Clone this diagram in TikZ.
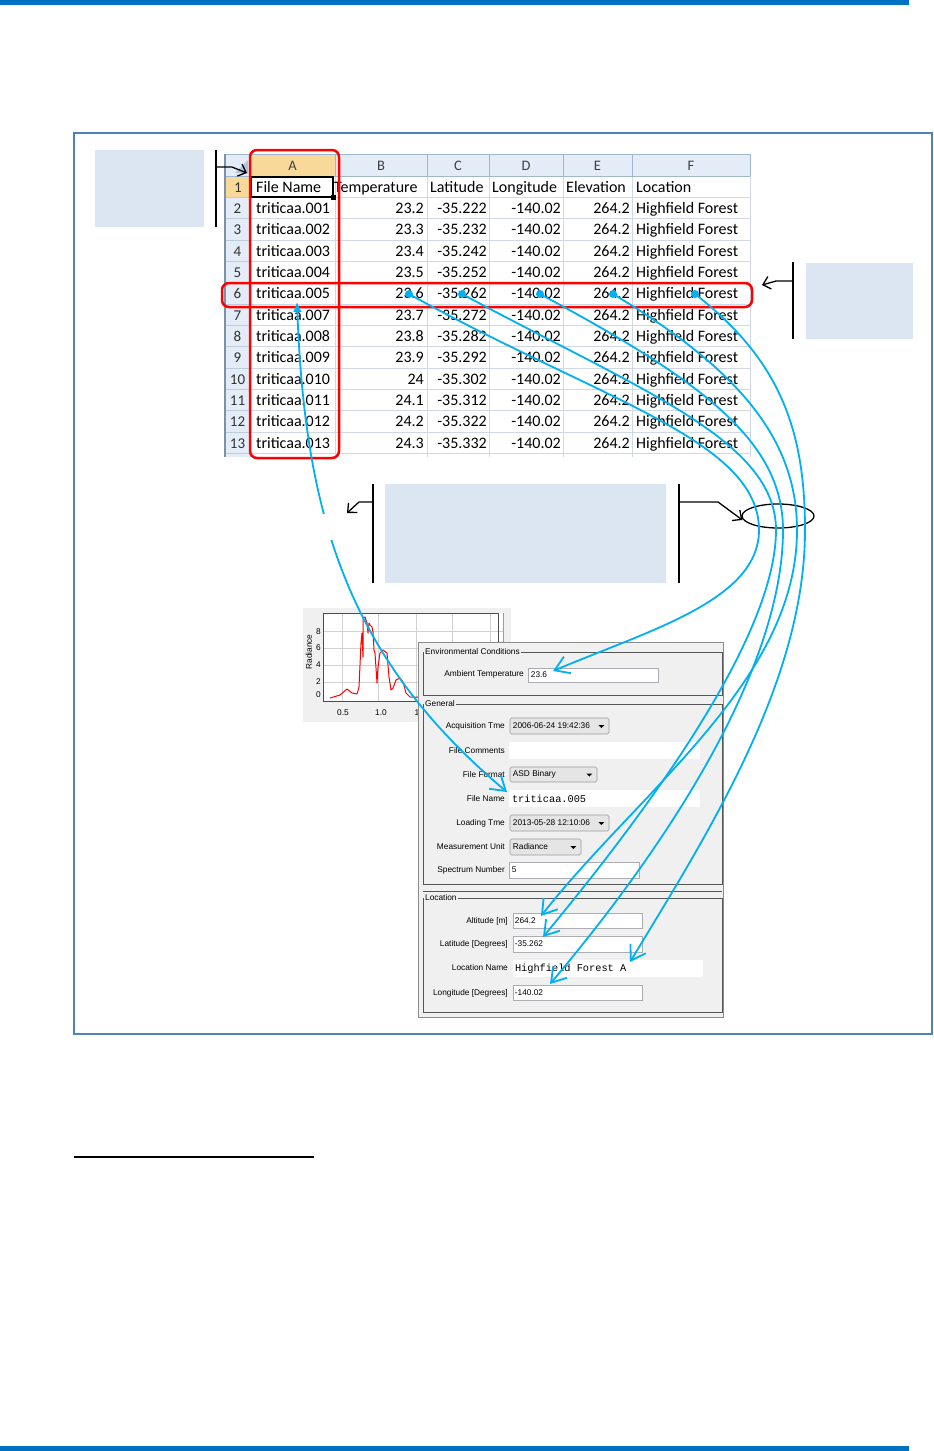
\documentclass[tikz,border=0pt]{standalone}
\usepackage{fontspec}
\setmainfont{Carlito}
\newfontfamily\uifont{Liberation Sans}
\newfontfamily\uimono{Liberation Mono}
\usetikzlibrary{arrows.meta,shapes.geometric}
\definecolor{barblue}{HTML}{0070C0}
\definecolor{framebl}{HTML}{4F81BD}
\definecolor{callfill}{HTML}{DCE6F2}
\definecolor{linkblue}{HTML}{00B0F0}
\definecolor{gridc}{HTML}{D0D7E5}
\definecolor{hdrfill}{HTML}{E4ECF7}
\definecolor{hdrline}{HTML}{9EB6CE}
\definecolor{selfill}{HTML}{F9D99A}
\definecolor{panelbg}{HTML}{F0F0F0}
\definecolor{ebox}{HTML}{ABADB3}
\definecolor{dropfill}{HTML}{E5E5E5}
\definecolor{grpline}{HTML}{555555}
\begin{document}
\begin{tikzpicture}[x=1pt,y=-1pt,
  cellt/.style={font=\fontsize{16}{18}\selectfont, inner sep=0pt},
  colhd/.style={font=\fontsize{14.5}{16}\selectfont, text=black!75, inner sep=0pt},
  rowno/.style={font=\fontsize{15}{16}\selectfont, text=black!80, inner sep=0pt},
  callbox/.style={fill=callfill, draw=none, inner sep=0pt},
  bracket/.style={black, line width=2pt},
  calarrow/.style={black, line width=1.3pt, -{Straight Barb[length=7pt,width=13pt]}},
  redbox/.style={red, line width=2.5pt, rounded corners=7pt},
  link/.style={linkblue, line width=1.8pt, -{Straight Barb[length=14pt,width=18pt]}},
  uitext/.style={font=\uifont\fontsize{8.3}{10}\selectfont, inner sep=0pt},
  uimonot/.style={font=\uimono\fontsize{10.3}{12}\selectfont, inner sep=0pt},
  grptitle/.style={font=\uifont\fontsize{8.3}{10}\selectfont, fill=panelbg, inner sep=1pt, anchor=west},
  fieldb/.style={draw=ebox, fill=white, inner sep=0pt, line width=0.6pt},
  fieldn/.style={draw=none, fill=white, inner sep=0pt},
  dropbox/.style={draw=ebox!90!black, fill=dropfill, rounded corners=1.5pt, inner sep=0pt, line width=0.6pt},
  grp/.style={grpline, line width=0.9pt}
]
\useasboundingbox (0,0) rectangle (934,1451);
\fill[white] (0,0) rectangle (934,1451);
% page bars
\fill[barblue] (0,0) rectangle (909,5);
\fill[barblue] (0,1446) rectangle (909,1451);
% frame
\draw[framebl, line width=2pt] (74,133) rectangle (932,1034);
% footnote rule
\draw[line width=2pt] (74,1157) -- (314,1157);

% ---------------- spreadsheet ----------------
\fill[hdrfill] (224,154) rectangle (750,176);
\fill[selfill] (250,154) rectangle (335,176);
\fill[hdrfill] (224,176) rectangle (250,457);
\fill[selfill] (224,176) rectangle (250,197.33);
\fill[hdrline!80] (248,160) -- (248,173) -- (235,173) -- cycle;
\foreach \k in {0,...,13}{
  \draw[gridc, line width=0.8pt] (250,{176+\k*21.333}) -- (750,{176+\k*21.333});
  \draw[hdrline!70, line width=0.8pt] (224,{176+\k*21.333}) -- (250,{176+\k*21.333});
}
\foreach \xx in {335,427,489,563,632,750}{
  \draw[gridc, line width=0.8pt] (\xx,176) -- (\xx,457);
  \draw[hdrline, line width=0.8pt] (\xx,154) -- (\xx,176);
}
\draw[hdrline, line width=0.8pt] (250,154) -- (250,457);
\draw[hdrline, line width=0.8pt] (224,154) -- (750,154);
\draw[hdrline, line width=1pt] (224,176) -- (750,176);
\draw[hdrline!80!black, line width=1.2pt] (225,154) -- (225,457);
% column letters
\node[colhd] (hA) at (292.5,166) {A};
\node[colhd] (hB) at (381,166) {B};
\node[colhd] (hC) at (458,166) {C};
\node[colhd] (hD) at (526,166) {D};
\node[colhd] (hE) at (597.5,166) {E};
\node[colhd] (hF) at (691,166) {F};
% header row
\node[rowno, anchor=base] (rn1) at (238,192) {1};
\node[cellt, anchor=base west] (t1a) at (256,192) {File Name};
\node[cellt, anchor=base west] (t1b) at (334,192) {Temperature};
\node[cellt, anchor=base west] (t1c) at (430,192) {Latitude};
\node[cellt, anchor=base west] (t1d) at (492,192) {Longitude};
\node[cellt, anchor=base west] (t1e) at (566,192) {Elevation};
\node[cellt, anchor=base west] (t1f) at (636,192) {Location};
\draw[line width=2pt] (251,177) rectangle (333,197);
\fill (331,195) rectangle (336,200);
% data rows
\foreach \r/\n/\t/\l in {2/001/23.2/-35.222, 3/002/23.3/-35.232, 4/003/23.4/-35.242,
  5/004/23.5/-35.252, 6/005/23.6/-35.262, 7/007/23.7/-35.272, 8/008/23.8/-35.282,
  9/009/23.9/-35.292, 10/010/24/-35.302, 11/011/24.1/-35.312, 12/012/24.2/-35.322,
  13/013/24.3/-35.332}{
  \pgfmathsetmacro\by{170.67+\r*21.333}
  \node[rowno, anchor=base] (rn\r) at (237.5,\by) {\r};
  \node[cellt, anchor=base west] (fn\r) at (256,\by) {triticaa.\n};
  \node[cellt, anchor=base east] (tp\r) at (424,\by) {\t};
  \node[cellt, anchor=base east] (la\r) at (487,\by) {\l};
  \node[cellt, anchor=base east] (lo\r) at (561,\by) {-140.02};
  \node[cellt, anchor=base east] (el\r) at (630,\by) {264.2};
  \node[cellt, anchor=base west] (lc\r) at (636,\by) {Highfield Forest};
}
% red highlight boxes
\draw[redbox] (250,150) rectangle (339,458);
\draw[redbox] (222,283) rectangle (752,307);

% ---------------- callouts ----------------
\node[callbox, minimum width=109pt, minimum height=77pt] (c1) at (149.5,188.5) {};
\node[callbox, minimum width=107pt, minimum height=76pt] (c2) at (859,300.5) {};
\node[callbox, minimum width=281pt, minimum height=99pt] (c3) at (525.5,533.5) {};
\coordinate (b1t) at (216,150); \coordinate (b1b) at (216,227);
\coordinate (b2t) at (793,262); \coordinate (b2b) at (793,339);
\coordinate (b3t) at (373,484); \coordinate (b3b) at (373,583);
\coordinate (b4t) at (679,484); \coordinate (b4b) at (679,583);
\draw[bracket] (b1t) -- (b1b);
\draw[bracket] (b2t) -- (b2b);
\draw[bracket] (b3t) -- (b3b);
\draw[bracket] (b4t) -- (b4b);
\coordinate (a1s) at (216,167); \coordinate (a1t) at (247,173);
\coordinate (a2s) at (793,281); \coordinate (a2t) at (762,285);
\coordinate (a3s) at (373,502); \coordinate (a3t) at (347,513);
\coordinate (a4s) at (679,502);
\node[ellipse, draw, line width=1.3pt, minimum width=72pt, minimum height=24pt, inner sep=0pt] (ell) at (778,516) {};
\draw[calarrow] (a1s) -- (232,167) -- (a1t);
\draw[calarrow] (a2s) -- (776,281) -- (a2t);
\draw[calarrow] (a3s) -- (359,502) -- (a3t);
\draw[calarrow] (a4s) -- (718,502) -- ([xshift=1pt,yshift=-4pt]ell.west);

% ---------------- spectrum chart ----------------
\fill[panelbg] (303,608) rectangle (511,722);
\fill[white] (323,613) rectangle (503,701);
\foreach \gx in {342,378,416,452,490}{\draw[black!18, line width=0.6pt] (\gx,613) -- (\gx,701);}
\foreach \gy in {631,648,665,682}{\draw[black!18, line width=0.6pt] (323,\gy) -- (503,\gy);}
\draw[black!70, line width=0.8pt] (323,613) rectangle (498,701);
\draw[black!40, line width=0.6pt] (503,613) -- (503,701);
\foreach \v/\yy in {8/632,6/648,4/665,2/682,0/695}{\node[uitext, anchor=east] (yt\v) at (321,\yy) {\v};}
\node[uitext] (xt1) at (343,713) {0.5};
\node[uitext] (xt2) at (381,713) {1.0};
\node[uitext] (xt3) at (417,713) {1};
\node[uitext, rotate=90] (ylab) at (309,652) {Radiance};
\draw[red, line width=1pt, line join=round] plot coordinates {(330,698) (340,695) (347,689) (352,693) (357,694) (359,687) (361,643) (362,633) (363,657) (363,618) (365,617) (367,623) (368,633) (369,623) (370,625) (372,627) (373,632) (374,650) (375,653) (377,683) (378,667) (380,653) (383,650) (387,653) (389,677) (391,690) (393,688) (396,680) (400,678) (403,682) (406,693) (410,697) (430,697)};

% ---------------- form panel ----------------
\fill[panelbg] (418,642) rectangle (723,1017);
\draw[black!45, line width=0.8pt] (418,642) rectangle (723,1017);
\draw[grp] (423,652) rectangle (722,695);
\draw[grp] (423,704) rectangle (722,884);
\draw[grp] (423,891) -- (722,891);
\draw[grp] (423,898) rectangle (722,1012);
\node[grptitle] (gEnv) at (424,652) {Environmental Conditions};
\node[grptitle] (gGen) at (424,704) {General};
\node[grptitle] (gLoc) at (424,898) {Location};
% environmental
\node[uitext, anchor=east] (lAmb) at (524,674.5) {Ambient Temperature};
\node[fieldb, minimum width=130pt, minimum height=14pt] (fAmb) at (593,675) {};
\node[uitext, anchor=west] (vAmb) at ([xshift=3pt]fAmb.west) {23.6};
% general
\node[uitext, anchor=east] (lAcq) at (505,726) {Acquisition Tme};
\node[dropbox, minimum width=99pt, minimum height=16pt] (fAcq) at (559.5,726) {};
\node[uitext, anchor=west] (vAcq) at ([xshift=3pt]fAcq.west) {2006-06-24 19:42:36};
\fill ([xshift=-11pt,yshift=1pt]fAcq.east) -- ++(6,0) -- ++(-3,3) -- cycle;
\node[uitext, anchor=east] (lCom) at (505,751) {File Comments};
\node[fieldn, minimum width=191pt, minimum height=17pt] (fCom) at (604.5,750.5) {};
\node[uitext, anchor=east] (lFmt) at (505,774.5) {File Format};
\node[dropbox, minimum width=87pt, minimum height=15pt] (fFmt) at (553.5,774.5) {};
\node[uitext, anchor=west] (vFmt) at ([xshift=3pt]fFmt.west) {ASD Binary};
\fill ([xshift=-11pt,yshift=1pt]fFmt.east) -- ++(6,0) -- ++(-3,3) -- cycle;
\node[uitext, anchor=east] (lFn) at (505,799) {File Name};
\node[fieldn, minimum width=191pt, minimum height=17pt] (fFn) at (604.5,798.5) {};
\node[uimonot, anchor=west] (vFn) at ([xshift=3pt]fFn.west) {triticaa.005};
\node[uitext, anchor=east] (lLoad) at (505,823) {Loading Tme};
\node[dropbox, minimum width=99pt, minimum height=16pt] (fLoad) at (559.5,823) {};
\node[uitext, anchor=west] (vLoad) at ([xshift=3pt]fLoad.west) {2013-05-28 12:10:06};
\fill ([xshift=-11pt,yshift=1pt]fLoad.east) -- ++(6,0) -- ++(-3,3) -- cycle;
\node[uitext, anchor=east] (lUnit) at (505,847) {Measurement Unit};
\node[dropbox, minimum width=71pt, minimum height=16pt] (fUnit) at (545.5,847) {};
\node[uitext, anchor=west] (vUnit) at ([xshift=3pt]fUnit.west) {Radiance};
\fill ([xshift=-11pt,yshift=1pt]fUnit.east) -- ++(6,0) -- ++(-3,3) -- cycle;
\node[uitext, anchor=east] (lSpec) at (505,870) {Spectrum Number};
\node[fieldb, minimum width=130pt, minimum height=16pt] (fSpec) at (574,870) {};
\node[uitext, anchor=west] (vSpec) at ([xshift=3pt]fSpec.west) {5};
% location
\node[uitext, anchor=east] (lAlt) at (508,921) {Altitude [m]};
\node[fieldb, minimum width=129pt, minimum height=15pt] (fAlt) at (577.5,920.5) {};
\node[uitext, anchor=west] (vAlt) at ([xshift=2pt]fAlt.west) {264.2};
\node[uitext, anchor=east] (lLat) at (508,944) {Latitude [Degrees]};
\node[fieldb, minimum width=129pt, minimum height=16pt] (fLat) at (577.5,944) {};
\node[uitext, anchor=west] (vLat) at ([xshift=2pt]fLat.west) {-35.262};
\node[uitext, anchor=east] (lLn) at (508,968) {Location Name};
\node[fieldn, minimum width=190pt, minimum height=17pt] (fLn) at (608,968.5) {};
\node[uimonot, anchor=west] (vLn) at ([xshift=2pt]fLn.west) {Highfield Forest A};
\node[uitext, anchor=east] (lLon) at (508,993) {Longitude [Degrees]};
\node[fieldb, minimum width=129pt, minimum height=15pt] (fLon) at (577.5,992.5) {};
\node[uitext, anchor=west] (vLon) at ([xshift=2pt]fLon.west) {-140.02};

% ---------------- blue links ----------------
\coordinate (dT) at (409,294);
\coordinate (dLa) at (462,294);
\coordinate (dLo) at (540,294);
\coordinate (dE) at (613,294);
\coordinate (dLc) at (695,294);
\coordinate (tA5) at (297,302);
\coordinate (tFn) at (507,792);
\coordinate (tT) at (553,671);
\coordinate (tAlt) at (541,916);
\coordinate (tLat) at (543,937);
\coordinate (tLon) at (550,984);
\coordinate (tLc) at (630,962);
\draw[link] (dT) .. controls (600,400) and (759,440) .. (759,530) .. controls (759,600) and (650,630) .. (tT);
\draw[link] (dLa) .. controls (640,390) and (776,440) .. (776,530) .. controls (776,640) and (640,820) .. (tLat);
\draw[link] (dLo) .. controls (700,380) and (783,440) .. (783,530) .. controls (783,660) and (680,830) .. (tLon);
\draw[link] (dE) .. controls (740,370) and (797,440) .. (797,530) .. controls (797,680) and (640,790) .. (tAlt);
\draw[link] (dLc) .. controls (780,360) and (805,430) .. (805,530) .. controls (805,680) and (710,830) .. (tLc);
\draw[link, {Latex[length=10pt,width=9pt]}-{Straight Barb[length=14pt,width=18pt]}] (tA5) .. controls (305,520) and (350,660) .. (tFn);
\foreach \d in {dT,dLa,dLo,dE,dLc}{\fill[linkblue] (\d) circle[radius=4pt];}
% gap in the file-name link
\fill[white] (313,514) rectangle (333,540);
\end{tikzpicture}
\end{document}
